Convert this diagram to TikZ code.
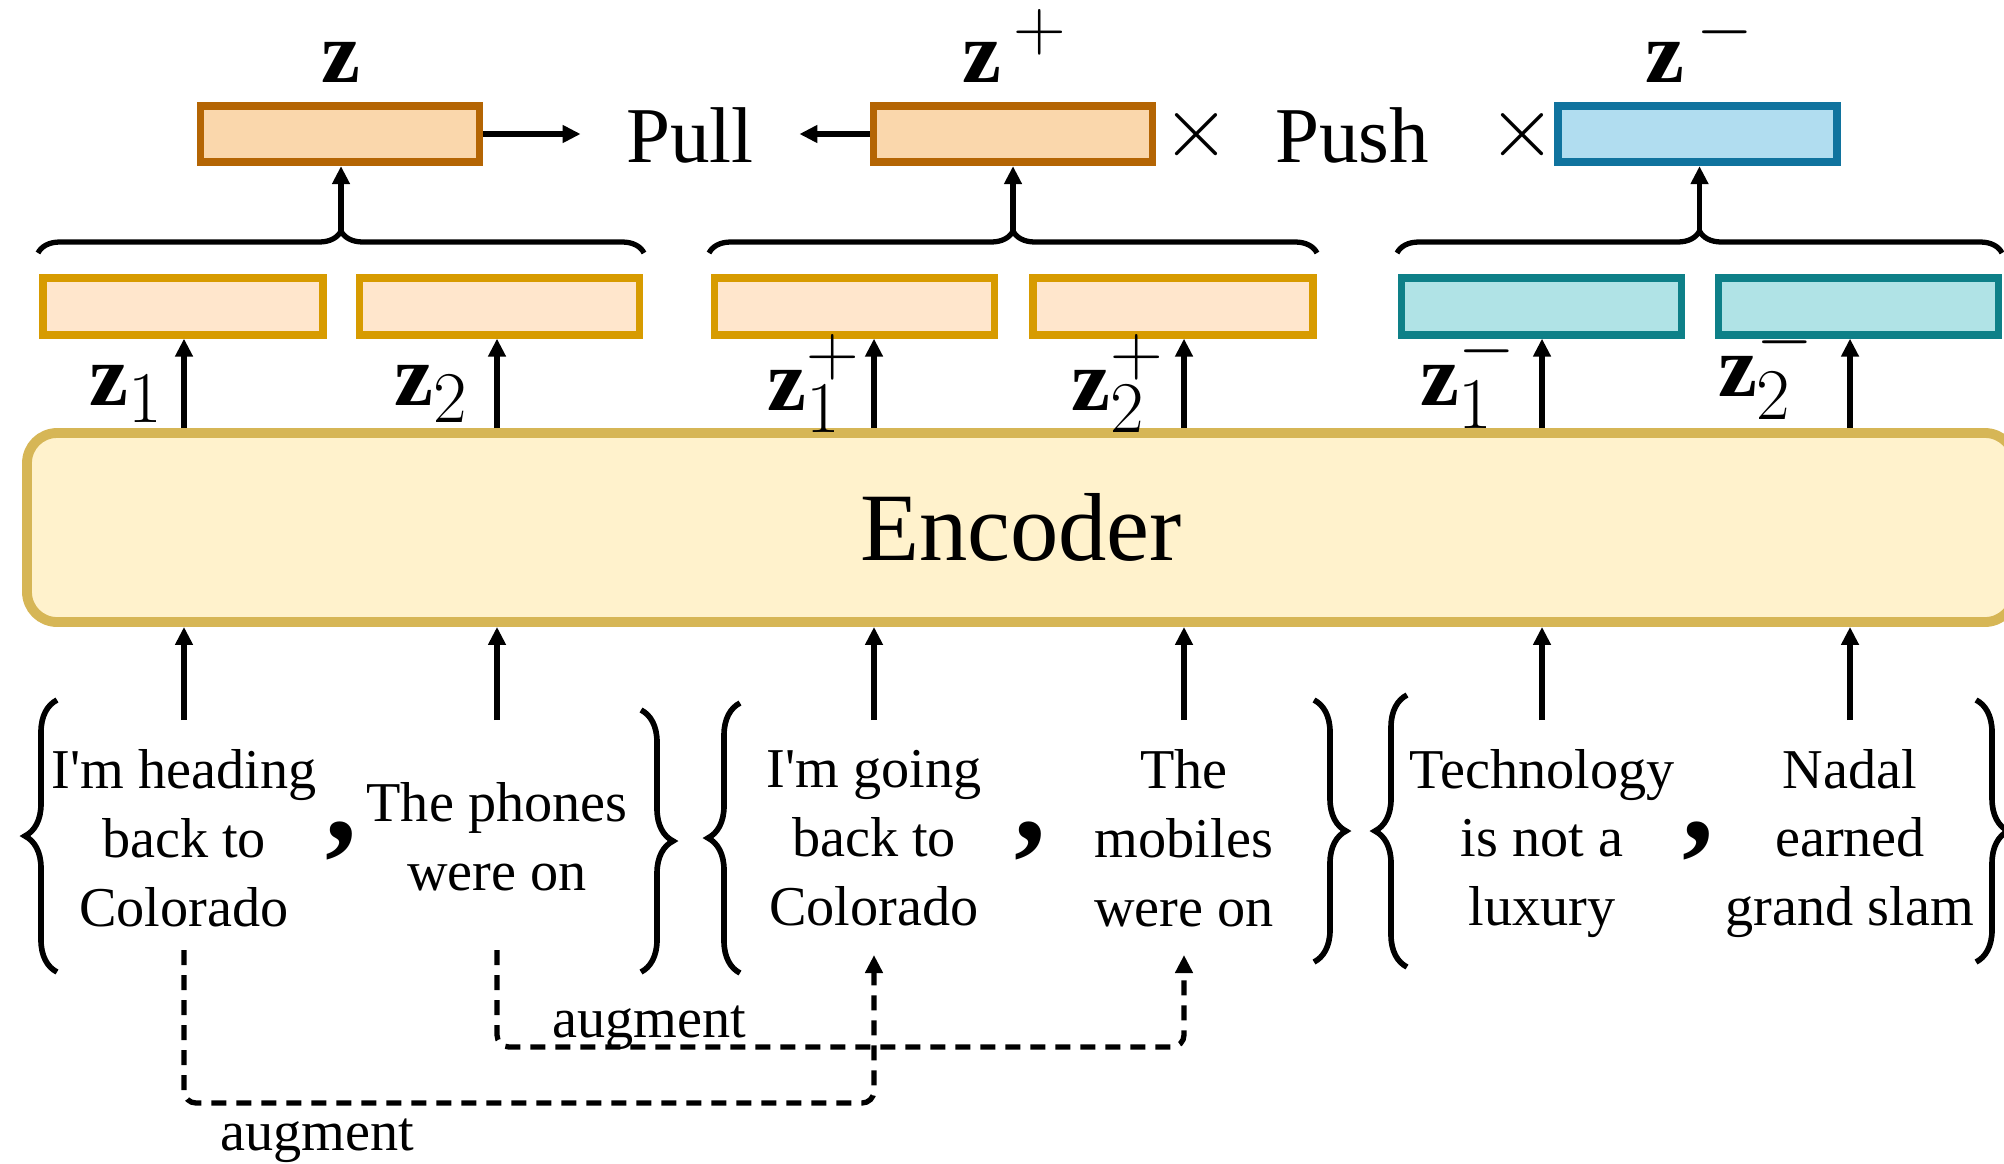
\documentclass[tikz,border=0pt]{standalone}
\usepackage{fontspec}
\setmainfont{Liberation Serif}
\usetikzlibrary{arrows.meta,decorations.pathreplacing}

\definecolor{zfill}{HTML}{FAD7AC}
\definecolor{zdraw}{HTML}{B46504}
\definecolor{pfill}{HTML}{FFE6CC}
\definecolor{pdraw}{HTML}{D79B00}
\definecolor{nfill}{HTML}{B1DDF0}
\definecolor{ndraw}{HTML}{10739E}
\definecolor{tfill}{HTML}{B0E3E6}
\definecolor{tdraw}{HTML}{0E8088}
\definecolor{efill}{HTML}{FFF2CC}
\definecolor{edraw}{HTML}{D6B656}

\tikzset{
  vec/.style={draw, line width=2.2pt, inner sep=0pt, minimum height=0.565cm},
  bigvec/.style={vec, minimum width=2.79cm},
  smallvec/.style={vec, minimum width=2.80cm},
  arr/.style={line width=1.5pt, -{Triangle[length=0.18cm,width=0.17cm]}},
  augarr/.style={arr, dash pattern=on 0.15cm off 0.1cm, rounded corners=0.12cm},
  sent/.style={align=center, inner sep=0pt, font=\fontsize{16}{19.6}\selectfont},
  sep/.style={inner sep=0pt, font=\fontsize{36}{38}\selectfont\bfseries},
  grp/.style={line width=1.6pt, decorate, decoration={brace, amplitude=0.32cm}},
  pool/.style={line width=1.5pt, decorate, decoration={brace, amplitude=0.22cm}},
  zlab/.style={inner sep=0pt, font=\fontsize{24.88}{28}\selectfont},
  word/.style={inner sep=0pt, font=\fontsize{22.5}{26}\selectfont},
  cross/.style={inner sep=0pt, font=\fontsize{27}{30}\selectfont},
}

\begin{document}
\begin{tikzpicture}[x=1cm, y=-1cm]
  \useasboundingbox (0,0) rectangle (20.04,11.63);
  \clip (0,0) rectangle (20.04,11.63);
  % pooled vectors
  \node[bigvec, draw=zdraw, fill=zfill] (z) at (3.40,1.34) {};
  \node[bigvec, draw=zdraw, fill=zfill] (zp) at (10.13,1.34) {};
  \node[bigvec, draw=ndraw, fill=nfill] (zn) at (16.975,1.34) {};
  \node[zlab, anchor=base] (zl) at (3.41,0.82) {$\mathbf{z}$};
  \node[zlab, anchor=base] (zpl) at (10.15,0.82) {$\mathbf{z}^{\,+}$};
  \node[zlab, anchor=base] (znl) at (17.00,0.82) {$\mathbf{z}^{\,-}$};
  \node[word, inner xsep=0.45cm, anchor=base] (pull) at (6.90,1.62) {Pull};
  \node[word, anchor=base] (push) at (13.52,1.62) {Push};
  \node[cross] (x1) at (11.96,1.35) {$\times$};
  \node[cross] (x2) at (15.22,1.35) {$\times$};
  \draw[arr] (z.east) -- (z.east -| pull.west);
  \draw[arr] (zp.west) -- (zp.west -| pull.east);
  % braces over the sentence vectors
  \draw[pool] (0.38,2.53) -- (6.44,2.53);
  \draw[pool] (7.09,2.53) -- (13.17,2.53);
  \draw[pool] (13.97,2.53) -- (20.02,2.53);
  \coordinate (b1) at (3.41,2.31);
  \coordinate (b2) at (10.13,2.31);
  \coordinate (b3) at (16.995,2.31);
  \draw[arr] (b1) -- (b1 |- z.south);
  \draw[arr] (b2) -- (b2 |- zp.south);
  \draw[arr] (b3) -- (b3 |- zn.south);
  % sentence vectors
  \node[smallvec, draw=pdraw, fill=pfill] (a1) at (1.83,3.065) {};
  \node[smallvec, draw=pdraw, fill=pfill] (a2) at (4.995,3.065) {};
  \node[smallvec, draw=pdraw, fill=pfill] (a3) at (8.545,3.065) {};
  \node[smallvec, draw=pdraw, fill=pfill] (a4) at (11.73,3.065) {};
  \node[smallvec, draw=tdraw, fill=tfill] (a5) at (15.415,3.065) {};
  \node[smallvec, draw=tdraw, fill=tfill] (a6) at (18.585,3.065) {};
  % encoder
  \node[draw=edraw, fill=efill, line width=2.8pt, rounded corners=0.3cm,
        minimum width=19.88cm, minimum height=1.89cm, inner sep=0pt,
        font=\fontsize{27.5}{30}\selectfont] (enc) at (10.21,5.275) {Encoder};
  % sentences
  \node[sent] (t1) at (1.84,8.385) {I\textquotesingle m heading\\back to\\Colorado};
  \node[sent] (t2) at (4.97,8.37) {The phones\\were on};
  \node[sent] (t3) at (8.74,8.385) {I\textquotesingle m going\\back to\\Colorado};
  \node[sent] (t4) at (11.84,8.385) {The\\mobiles\\were on};
  \node[sent] (t5) at (15.42,8.435) {Technology\\is not a\\luxury};
  \node[sent] (t6) at (18.50,8.435) {Nadal\\earned\\grand slam};
  \node[sep, anchor=base] (c1) at (3.41,8.40) {,};
  \node[sep, anchor=base] (c2) at (10.30,8.40) {,};
  \node[sep, anchor=base] (c3) at (16.98,8.40) {,};
  % sentence pairs
  \draw[grp] (0.57,9.72) -- (0.57,7.00);
  \draw[grp] (6.41,7.10) -- (6.41,9.72);
  \draw[grp] (7.40,9.73) -- (7.40,7.03);
  \draw[grp] (13.14,7.00) -- (13.14,9.62);
  \draw[grp] (14.07,9.67) -- (14.07,6.95);
  \draw[grp] (19.76,7.00) -- (19.76,9.62);
  % into the encoder
  \coordinate (lo) at (0,7.20);
  \foreach \t in {t1,t2,t3,t4,t5,t6}
    \draw[arr] (\t |- lo) -- (\t |- enc.south);
  % out of the encoder
  \draw[arr] (t1 |- enc.north) -- (t1 |- a1.south)
    node[zlab, pos=0.25, anchor=base east, xshift=-0.18cm] {$\mathbf{z}_1$};
  \draw[arr] (t2 |- enc.north) -- (t2 |- a2.south)
    node[zlab, pos=0.25, anchor=base east, xshift=-0.26cm] {$\mathbf{z}_2$};
  \draw[arr] (t3 |- enc.north) -- (t3 |- a3.south)
    node[zlab, pos=0.2, anchor=base east, xshift=-0.11cm] {$\mathbf{z}_1^{+}$};
  \draw[arr] (t4 |- enc.north) -- (t4 |- a4.south)
    node[zlab, pos=0.2, anchor=base east, xshift=-0.17cm] {$\mathbf{z}_2^{+}$};
  \draw[arr] (t5 |- enc.north) -- (t5 |- a5.south)
    node[zlab, pos=0.25, anchor=base east, xshift=-0.22cm] {$\mathbf{z}_1^{-}$};
  \draw[arr] (t6 |- enc.north) -- (t6 |- a6.south)
    node[zlab, pos=0.35, anchor=base east, xshift=-0.32cm] {$\mathbf{z}_2^{-}$};
  % augmentation
  \coordinate (dtop) at (0,9.50);
  \coordinate (dlowa) at (0,11.03);
  \coordinate (dlowb) at (0,10.47);
  \coordinate (dtip) at (0,9.55);
  \draw[augarr] (t1 |- dtop) -- (t1 |- dlowa) -- (t3 |- dlowa) -- (t3 |- dtip);
  \draw[augarr] (t2 |- dtop) -- (t2 |- dlowb) -- (t4 |- dlowb) -- (t4 |- dtip);
  \node[sent, anchor=base] (aug1) at (3.17,11.50) {augment};
  \node[sent, anchor=base] (aug2) at (6.49,10.37) {augment};
\end{tikzpicture}
\end{document}
